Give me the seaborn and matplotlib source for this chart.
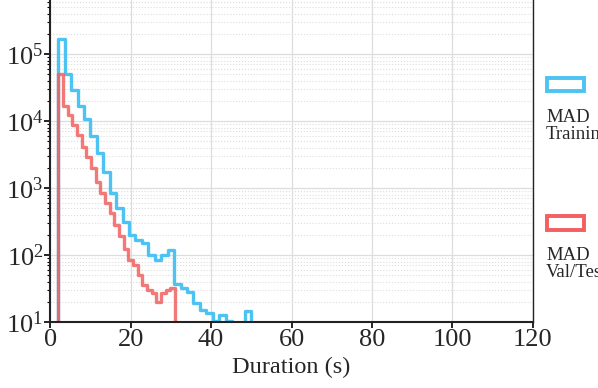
import numpy as np
import pandas as pd
import matplotlib
matplotlib.use("Agg")
import matplotlib.pyplot as plt
import seaborn as sns
from matplotlib.patches import Rectangle

# Conteos leídos del histograma (escala log); bins vacíos en los extremos
# para que el contorno baje hasta la base
train_edges = list(np.linspace(0.4, 51.6, 33))
train_counts = [0, 165000, 50000, 29000, 16700, 10700, 6000, 3300, 1740, 850, 500,
                310, 200, 167, 150, 100, 85, 100, 118, 37, 32,
                28, 19, 15, 13.5, 10.3, 12.7, 10.5, 0, 0, 14.6, 0]

val_edges = list(np.linspace(2.0 - 1.16, 31.0 + 1.16, 28))
val_counts = [0, 50000, 16700, 12300, 8700, 6200, 4100, 2900, 2000, 1230, 850,
              600, 425, 280, 190, 125, 85, 70, 50, 36, 30,
              27, 20, 27, 30, 32, 0]

x_ticks = [0, 20, 40, 60, 80, 100, 120]
labels = ["MAD\nTraining", "MAD\nVal/Test"]
colors = ["#4cc3f2", "#f26060"]

sns.set_theme(style="whitegrid")
plt.rcParams['font.family'] = ['Liberation Serif', 'DejaVu Serif']
plt.rcParams['mathtext.fontset'] = 'stix'

te = np.array(train_edges)
ve = np.array(val_edges)
df_train = pd.DataFrame({"dur": (te[:-1] + te[1:]) / 2, "n": train_counts})
df_val = pd.DataFrame({"dur": (ve[:-1] + ve[1:]) / 2, "n": val_counts})

fig = plt.figure(figsize=(5.98, 3.88), dpi=100)
ax = fig.add_axes([0.084, 0.170, 0.807, 0.830])

sns.histplot(data=df_train, x="dur", weights="n", bins=train_edges, element="step",
             fill=False, color=colors[0], linewidth=2.4, ax=ax)
sns.histplot(data=df_val, x="dur", weights="n", bins=val_edges, element="step",
             fill=False, color=colors[1], linewidth=2.4, alpha=0.85, ax=ax)

ax.set_yscale("log")
ax.set_xlim(0, 120)
ax.set_ylim(10, 6.4e5)
ax.set_xticks(x_ticks)
ax.set_xlabel("Duration (s)", fontsize=17.5, labelpad=4)
ax.set_ylabel("")
ax.tick_params(axis="both", labelsize=19, length=4, width=1.2, color="black",
               direction="out", pad=1)
ax.tick_params(axis="y", which="minor", length=2.5, width=0.8, color="black", left=True)
ax.tick_params(axis="x", bottom=True)
ax.tick_params(axis="y", left=True)

ax.grid(which="major", color="#dddddd", linewidth=0.9, linestyle="-")
ax.grid(which="minor", axis="y", color="#dddddd", linewidth=0.8, linestyle=":")
ax.set_facecolor("white")
for side in ["left", "bottom"]:
    ax.spines[side].set_color("#222222")
    ax.spines[side].set_linewidth(1.5)
ax.spines["right"].set_color("#222222")
ax.spines["right"].set_linewidth(1.0)
ax.spines["top"].set_visible(False)

# Leyenda manual: recuadro con el texto debajo
for i, (lab, col) in enumerate(zip(labels, colors)):
    y0 = 0.765 - i * 0.357
    fig.add_artist(Rectangle((0.915, y0), 0.062, 0.035, transform=fig.transFigure,
                             fill=False, edgecolor=col, linewidth=2.8))
    fig.text(0.913, y0 - 0.045, lab, fontsize=13.5, va="top", ha="left", linespacing=1.0)

fig.savefig("out.png", dpi=100)
